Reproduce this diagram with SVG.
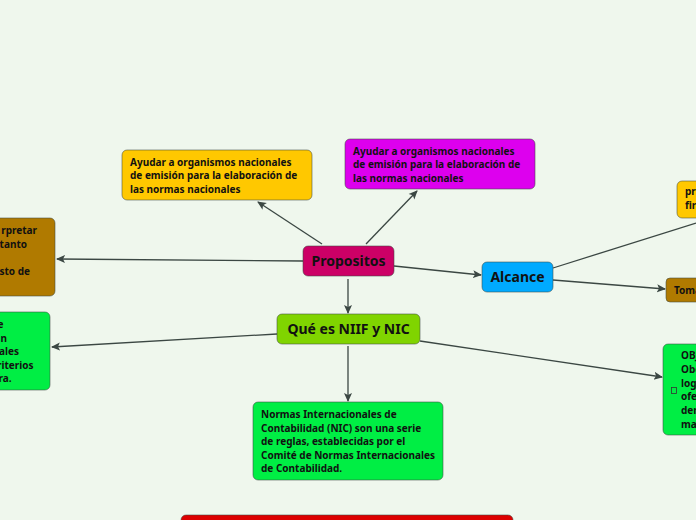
<svg xmlns="http://www.w3.org/2000/svg" width="696" height="520" viewBox="0 0 696 520">
<defs>
<marker id="ah" markerWidth="10" markerHeight="10" refX="8" refY="5" orient="auto" markerUnits="userSpaceOnUse">
<path d="M0,1 L9,5 L0,9 L2,5 Z" fill="#3b4743"/>
</marker>
</defs>
<style>
.bg{fill:#eff7ed}
.n{stroke:#3f4a44;stroke-opacity:0.55;stroke-width:1}
.t{font-family:"Noto Sans","Open Sans","DejaVu Sans",sans-serif;font-weight:bold;fill:#111;font-size:10px}
.big{font-size:14px}
.c{fill:none;stroke:#3b4743;stroke-width:1.3}
</style>
<rect class="bg" x="0" y="0" width="696" height="520"/>
<g id="connectors">
<line class="c" x1="322" y1="244" x2="258" y2="202" marker-end="url(#ah)"/>
<line class="c" x1="366" y1="244" x2="417" y2="191" marker-end="url(#ah)"/>
<line class="c" x1="303" y1="261" x2="57" y2="259" marker-end="url(#ah)"/>
<line class="c" x1="394" y1="266" x2="481" y2="275" marker-end="url(#ah)"/>
<line class="c" x1="348" y1="279" x2="348" y2="313" marker-end="url(#ah)"/>
<line class="c" x1="553" y1="268" x2="696" y2="223"/>
<line class="c" x1="553" y1="280" x2="665" y2="289" marker-end="url(#ah)"/>
<line class="c" x1="277" y1="334" x2="52" y2="347" marker-end="url(#ah)"/>
<line class="c" x1="420" y1="341" x2="662" y2="377" marker-end="url(#ah)"/>
<line class="c" x1="348" y1="346" x2="348" y2="401" marker-end="url(#ah)"/>
</g>
<g id="n-yellow">
<rect class="n" x="122" y="150" width="190" height="50" rx="5" fill="#ffc800"/>
<text class="t" x="130" y="166">Ayudar a organismos nacionales</text>
<text class="t" x="130" y="179">de emisión para la elaboración de</text>
<text class="t" x="130" y="193">las normas nacionales</text>
</g>
<g id="n-magenta">
<rect class="n" x="345" y="139" width="190" height="50" rx="5" fill="#dd00ee"/>
<text class="t" x="353" y="155">Ayudar a organismos nacionales</text>
<text class="t" x="353" y="168">de emisión para la elaboración de</text>
<text class="t" x="353" y="182">las normas nacionales</text>
</g>
<g id="n-propositos">
<rect class="n" x="303" y="246" width="91" height="30" rx="5" fill="#cc0066"/>
<text class="t big" x="348.5" y="266" text-anchor="middle">Propositos</text>
</g>
<g id="n-que">
<rect class="n" x="277" y="314" width="143" height="30" rx="5" fill="#80d400"/>
<text class="t big" x="348.5" y="334" text-anchor="middle">Qué es NIIF y NIC</text>
</g>
<g id="n-alcance">
<rect class="n" x="482" y="262" width="71" height="30" rx="5" fill="#00aaff"/>
<text class="t big" x="517.5" y="282" text-anchor="middle">Alcance</text>
</g>
<g id="n-left-brown">
<rect class="n" x="-10" y="218" width="65" height="78" rx="5" fill="#b07a00"/>
<text class="t" x="37" y="234" text-anchor="end">rpretar</text>
<text class="t" x="27" y="248" text-anchor="end">tanto</text>
<text class="t" x="30" y="275" text-anchor="end">sto de</text>
</g>
<g id="n-left-green">
<rect class="n" x="-10" y="312" width="60" height="78" rx="5" fill="#00ee44"/>
<text class="t" x="3.5" y="328" text-anchor="end">e</text>
<text class="t" x="7" y="342" text-anchor="end">n</text>
<text class="t" x="19" y="355" text-anchor="end">ales</text>
<text class="t" x="33.5" y="369" text-anchor="end">riterios</text>
<text class="t" x="11.5" y="382" text-anchor="end">ra.</text>
</g>
<g id="n-right-yellow">
<rect class="n" x="677" y="181" width="40" height="37" rx="5" fill="#ffc800"/>
<text class="t" x="685" y="195">pr</text>
<text class="t" x="685" y="209">fir</text>
</g>
<g id="n-right-brown">
<rect class="n" x="666" y="278" width="40" height="24" rx="4" fill="#b07a00"/>
<text class="t" x="674" y="294">Toma</text>
</g>
<g id="n-right-green">
<rect class="n" x="663" y="344" width="45" height="91" rx="5" fill="#00ee44"/>
<rect x="671.5" y="387.5" width="5" height="6" fill="none" stroke="#333" stroke-width="0.8"/>
<text class="t" x="681" y="359">OBJ</text>
<text class="t" x="681" y="373">Obe</text>
<text class="t" x="681" y="387">log</text>
<text class="t" x="681" y="400">ofe</text>
<text class="t" x="681" y="414">den</text>
<text class="t" x="681" y="428">ma</text>
</g>
<g id="n-bottom-green">
<rect class="n" x="253" y="402" width="190" height="78" rx="5" fill="#00ee44"/>
<text class="t" x="261" y="418">Normas Internacionales de</text>
<text class="t" x="261" y="432">Contabilidad (NIC) son una serie</text>
<text class="t" x="261" y="445">de reglas, establecidas por el</text>
<text class="t" x="261" y="459">Comité de Normas Internacionales</text>
<text class="t" x="261" y="472">de Contabilidad.</text>
</g>
<g id="n-bottom-red">
<rect class="n" x="181" y="515" width="332" height="20" rx="5" fill="#dd0000"/>
</g>
</svg>
